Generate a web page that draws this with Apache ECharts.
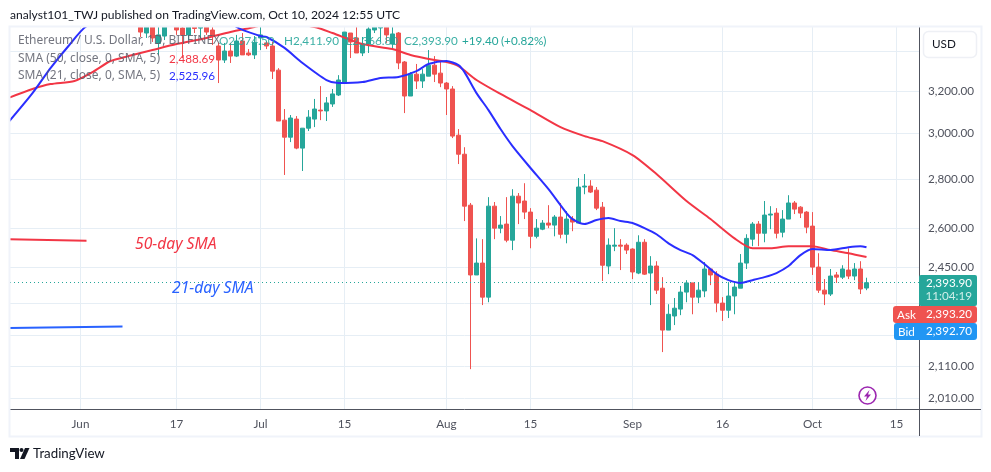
<!DOCTYPE html>
<html><head><meta charset="utf-8">
<style>html,body{margin:0;padding:0;background:#fff}#c{width:991px;height:472px}</style>
<script src="https://cdn.jsdelivr.net/npm/echarts@6/dist/echarts.min.js"></script>
</head><body><div id="c"></div>
<script>
const firstCandle = '2024-06-11';
const opens = [
3560,3494,3535,3439,3478,3570,3545,3521,3484,3530,3520,3535,3510,3426,3354,3400,3374,3452,3390,3380,
3468,3442,3426,3303,3062,2984,3067,2935,3025,3067,3109,3105,3138,3181,3244,3494,3468,3390,3436,3510,3521,3530,3436,3494,3344,3176,3283,3249,3273,3328,3288,
3239,3210,2993,2908,2692,2422,2466,2342,2688,2600,2616,2553,2729,2709,2664,2568,2596,2620,2612,2644,2576,2636,2620,2767,2771,2754,2684,2455,2530,2534,2534,
2519,2429,2545,2429,2455,2374,2228,2276,2300,2360,2393,2342,2364,2444,2425,2321,2296,2346,2374,2466,2557,2616,2580,2652,2660,2584,2636,2701,2684,2664,
2608,2451,2367,2353,2422,2414,2440,2418,2444,2374.5];
const closes = [
3499,3535,3468,3484,3540,3545,3510,3484,3530,3518,3535,3499,3478,3354,3400,3374,3452,3380,3380,3442,
3484,3426,3298,3058,2984,3072,2935,3025,3076,3114,3105,3143,3186,3254,3499,3447,3390,3436,3515,3526,3526,3484,3489,3339,3176,3283,3249,3283,3328,3283,3239,
3210,2989,2908,2688,2422,2466,2342,2688,2600,2612,2553,2729,2701,2664,2568,2600,2620,2612,2644,2576,2636,2624,2767,2771,2746,2680,2458,2534,2534,2530,2515,
2433,2545,2425,2455,2367,2228,2282,2303,2360,2393,2342,2367,2444,2422,2321,2296,2346,2378,2466,2560,2616,2580,2652,2656,2580,2636,2701,2676,2660,2604,
2451,2367,2353,2418,2414,2444,2418,2444,2371,2393.9];
const highs = [
3580,3560,3560,3530,3570,3590,3570,3545,3550,3550,3550,3550,3526,3442,3442,3442,3484,3494,3410,3478,
3530,3452,3447,3313,3114,3086,3081,3025,3109,3162,3224,3171,3210,3278,3499,3494,3526,3473,3530,3545,3545,3550,3526,3499,3349,3293,3334,3308,3405,3374,3349,
3244,3224,3021,2939,2701,2560,2557,2725,2705,2648,2725,2758,2742,2783,2680,2636,2632,2692,2652,2701,2668,2648,2805,2822,2796,2767,2705,2560,2600,2557,2541,
2522,2572,2557,2492,2473,2414,2317,2339,2382,2403,2393,2396,2470,2444,2436,2342,2396,2393,2500,2576,2624,2628,2709,2688,2680,2672,2733,2709,2688,2668,
2664,2503,2407,2444,2433,2458,2522,2466,2473,2411.9];
const lows = [
3473,3468,3447,3380,3457,3530,3484,3364,3457,3494,3462,3484,3431,3239,3339,3339,3369,3380,3374,3359,
3405,3410,3259,3058,2818,2962,2930,2835,3012,3030,3062,3058,3124,3176,3244,3364,3390,3374,3390,3494,3447,3442,3405,3308,3095,3176,3210,3215,3273,3244,3219,
3086,2980,2865,2628,2100,2422,2314,2324,2557,2580,2545,2515,2616,2636,2522,2560,2592,2600,2568,2560,2541,2588,2620,2737,2742,2672,2400,2425,2511,2440,2500,
2407,2425,2422,2314,2353,2155,2228,2245,2279,2324,2282,2321,2342,2385,2289,2259,2269,2282,2374,2444,2530,2530,2545,2596,2560,2564,2636,2656,2640,2580,
2422,2357,2314,2346,2393,2407,2407,2403,2353,2366.8];

const sma21Dates = ['2024-05-20','2024-05-24','2024-05-27','2024-05-30','2024-06-02','2024-06-10','2024-06-24','2024-06-27','2024-07-01','2024-07-02','2024-07-05','2024-07-08','2024-07-12','2024-07-14','2024-07-18','2024-07-21','2024-07-24','2024-07-27','2024-07-29','2024-08-01','2024-08-03','2024-08-04','2024-08-06','2024-08-08','2024-08-10','2024-08-12','2024-08-15','2024-08-18','2024-08-21','2024-08-22','2024-08-24','2024-08-26','2024-08-28','2024-08-30','2024-09-01','2024-09-03','2024-09-05','2024-09-07','2024-09-09','2024-09-11','2024-09-13','2024-09-15','2024-09-17','2024-09-19','2024-09-21','2024-09-23','2024-09-25','2024-09-27','2024-09-29','2024-10-01','2024-10-04','2024-10-07','2024-10-09','2024-10-10'];
const sma21Values = [3053,3190,3313,3426,3530,3645,3618,3526,3478,3473,3416,3339,3254,3239,3244,3264,3269,3298,3334,3349,3328,3293,3190,3109,3021,2944,2848,2758,2660,2636,2616,2632,2640,2628,2620,2600,2576,2541,2515,2496,2462,2425,2403,2393,2403,2414,2429,2455,2496,2519,2515,2526,2530,2525.96];
const sma50Dates = ['2024-05-20','2024-05-24','2024-05-27','2024-05-31','2024-06-03','2024-06-06','2024-06-09','2024-06-13','2024-06-17','2024-06-22','2024-06-26','2024-06-30','2024-07-04','2024-07-10','2024-07-13','2024-07-18','2024-07-23','2024-07-26','2024-07-30','2024-08-01','2024-08-03','2024-08-06','2024-08-10','2024-08-15','2024-08-20','2024-08-24','2024-08-27','2024-09-01','2024-09-05','2024-09-10','2024-09-14','2024-09-18','2024-09-21','2024-09-24','2024-09-27','2024-10-01','2024-10-04','2024-10-07','2024-10-10'];
const sma50Values = [3167,3210,3234,3249,3293,3349,3374,3405,3436,3468,3499,3526,3555,3526,3494,3436,3410,3380,3354,3344,3323,3254,3186,3109,3030,2989,2966,2904,2822,2709,2636,2560,2522,2522,2530,2530,2515,2503,2488.69];

const note50Dates = ['2024-05-20','2024-06-02'];
const note50Values = [2557,2551];
const note21Dates = ['2024-05-20','2024-06-08'];
const note21Values = [2235,2240];

const priceTicks = [3400,3200,3000,2800,2600,2450,2320,2210,2110,2010];
const hiddenPriceLabels = [3400,2320,2210];
const timeTicks = ['2024-06-01','2024-06-17','2024-07-01','2024-07-15','2024-08-01','2024-08-15','2024-09-01','2024-09-16','2024-10-01','2024-10-15'];
const timeLabels = ['Jun','17','Jul','15','Aug','15','Sep','16','Oct','15'];
const lastPrice = 2393.9;

const UP='#26a69a', DOWN='#ef5350', SMA50='#f23645', SMA21='#2a2eff', NOTE21='#2962ff';
const FONT='"Noto Sans","Open Sans",sans-serif', NUM='Lato,"Noto Sans",sans-serif', TXT='#50535e', LEG='#5a5d68';
const dayNo=s=>{const p=s.split('-');return Math.round((Date.UTC(+p[0],+p[1]-1,+p[2])-Date.UTC(2024,5,1))/86400000)};
const pairs=(d,v)=>d.map((x,i)=>[dayNo(x),v[i]]);
const start=dayNo(firstCandle);
const candles=opens.map((o,i)=>[start+i,o,closes[i],lows[i],highs[i]]);
const tickDays=timeTicks.map(dayNo);
const fmt=v=>Number(v).toLocaleString('en-US',{minimumFractionDigits:2,maximumFractionDigits:2});
const line=(name,data,color,w)=>({type:'line',name,data,showSymbol:false,symbol:'none',smooth:0.25,silent:true,lineStyle:{color,width:w},z:5,clip:true,animation:false});
const text=(x,y,s,fill,o={})=>({type:'text',x,y,z:20,silent:true,style:Object.assign({text:s,fill,font:'12px '+FONT,textVerticalAlign:'middle'},o)});
const num=(x,y,s,fill,o={})=>text(x,y,s,fill,Object.assign({font:'11.7px '+NUM},o));
const rect=(x,y,w,h,fill,r)=>({type:'rect',x,y,z:18,silent:true,shape:{x:0,y:0,width:w,height:h,r:r||0},style:{fill}});

const chart=echarts.init(document.getElementById('c'),null,{renderer:'canvas'});
chart.setOption({
 animation:false,backgroundColor:'#fff',
 grid:{left:10,right:72,top:27,bottom:63,containLabel:false},
 xAxis:{type:'value',min:-11.75,max:139.75,scale:true,
  axisLine:{show:true,onZero:false,lineStyle:{color:TXT,width:1}},
  axisTick:{show:false,customValues:tickDays},
  splitLine:{show:true,lineStyle:{color:'#e6eef5',width:1}},
  axisLabel:{customValues:tickDays,color:TXT,fontFamily:NUM,fontSize:11.7,margin:9,hideOverlap:false,showMinLabel:true,showMaxLabel:true,
   formatter:v=>{const i=tickDays.indexOf(+v);return i>=0?timeLabels[i]:''}}},
 yAxis:{type:'log',logBase:10,position:'right',min:1977,max:3526,
  axisLine:{show:true,onZero:false,lineStyle:{color:TXT,width:1}},
  axisTick:{show:false,customValues:priceTicks},
  splitLine:{show:true,lineStyle:{color:'#e6eef5',width:1}},
  axisLabel:{customValues:priceTicks,color:TXT,fontFamily:NUM,fontSize:11.7,margin:9,showMinLabel:true,showMaxLabel:true,padding:[0,0,4,0],
   formatter:v=>{const n=Math.round(+v);return hiddenPriceLabels.includes(n)?'':fmt(n)}}},
 series:[
  {type:'candlestick',data:candles,encode:{x:0,y:[1,2,3,4]},barWidth:5,clip:true,z:3,silent:true,
   itemStyle:{color:UP,color0:DOWN,borderColor:UP,borderColor0:DOWN,borderWidth:1},
   markLine:{silent:true,symbol:'none',label:{show:false},animation:false,
    lineStyle:{color:UP,type:[1,3],width:1},data:[{yAxis:lastPrice}]}},
  line('SMA 50',pairs(sma50Dates,sma50Values),SMA50,2),
  line('SMA 21',pairs(sma21Dates,sma21Values),SMA21,2),
  line('50-day note',pairs(note50Dates,note50Values),SMA50,2),
  line('21-day note',pairs(note21Dates,note21Values),NOTE21,2)
 ],
 graphic:[
  {type:'rect',z:10,silent:true,shape:{x:0,y:0,width:991,height:26},style:{fill:'#fff'}},
  {type:'rect',z:11,silent:true,shape:{x:9.5,y:26.5,width:972,height:410},style:{fill:'none',stroke:'#f0f3fa',lineWidth:2}},
  {type:'line',z:12,silent:true,shape:{x1:919.5,y1:409,x2:919.5,y2:436},style:{stroke:TXT,lineWidth:1}},
  {type:'line',z:12,silent:true,shape:{x1:919,y1:409.5,x2:981,y2:409.5},style:{stroke:TXT,lineWidth:1}},
  text(10,15,'analyst101_TWJ published on TradingView.com, Oct 10, 2024 12:55 UTC','#131722',{font:'12.1px '+NUM}),
  text(18,41,'Ethereum / U.S. Dollar, 1D, BITFINEX',LEG,{opacity:.85}),
  num(219,41,'O2,374.50',UP,{opacity:.85}),num(284,41,'H2,411.90',UP,{opacity:.9}),
  num(346,41,'L2,366.80',UP,{opacity:.85}),num(404,41,'C2,393.90',UP,{opacity:.9}),
  num(462,41,'+19.40',UP),num(501,41,'(+0.82%)',UP),
  text(18,59,'SMA (50, close, 0, SMA, 5)',LEG,{opacity:.85}),num(169,59,'2,488.69',SMA50),
  text(18,76,'SMA (21, close, 0, SMA, 5)',LEG,{opacity:.85}),num(169,76,'2,525.96',SMA21),
  text(135,245,'50-day SMA',SMA50,{font:'italic 15.7px '+FONT}),
  text(172,289,'21-day SMA',NOTE21,{font:'italic 15.7px '+FONT}),
  {type:'rect',z:18,silent:true,shape:{x:923.5,y:31.5,width:53,height:26,r:5},style:{fill:'#fff',stroke:'#eef0f5',lineWidth:1.5}},
  text(932,44,'USD','#131722',{font:'11.7px '+NUM}),
  rect(919,275,58,31,UP,2),rect(893,306,84,17,DOWN,3),rect(894,323,83,17,'#2196f3',3),
  num(972,283,'2,393.90','#fff',{textAlign:'right'}),
  num(972,296,'11:04:19','#cfeee9',{textAlign:'right'}),
  num(897,315,'Ask','#fff'),num(972,314,'2,393.20','#fff',{textAlign:'right'}),
  num(898,332,'Bid','#fff'),num(972,331,'2,392.70','#fff',{textAlign:'right'}),
  {type:'circle',z:18,silent:true,shape:{cx:867.5,cy:395.5,r:8.5},style:{fill:'#fff',stroke:'#9c27b0',lineWidth:1.6}},
  {type:'polygon',z:19,silent:true,shape:{points:[[869.5,390],[864,396.5],[867,396.5],[865.5,401],[871,394.5],[868,394.5]]},style:{fill:'#9c27b0'}},
  {type:'polygon',z:18,silent:true,shape:{points:[[10,448],[19,448],[19,459],[15,459],[15,452],[10,452]]},style:{fill:'#131722'}},
  {type:'circle',z:18,silent:true,shape:{cx:21.5,cy:450,r:2},style:{fill:'#131722'}},
  {type:'polygon',z:18,silent:true,shape:{points:[[25,448],[29.5,448],[24.5,459],[20,459]]},style:{fill:'#131722'}},
  text(33,454,'TradingView','#131722',{font:'13.3px '+NUM})
 ]
});
</script></body></html>
